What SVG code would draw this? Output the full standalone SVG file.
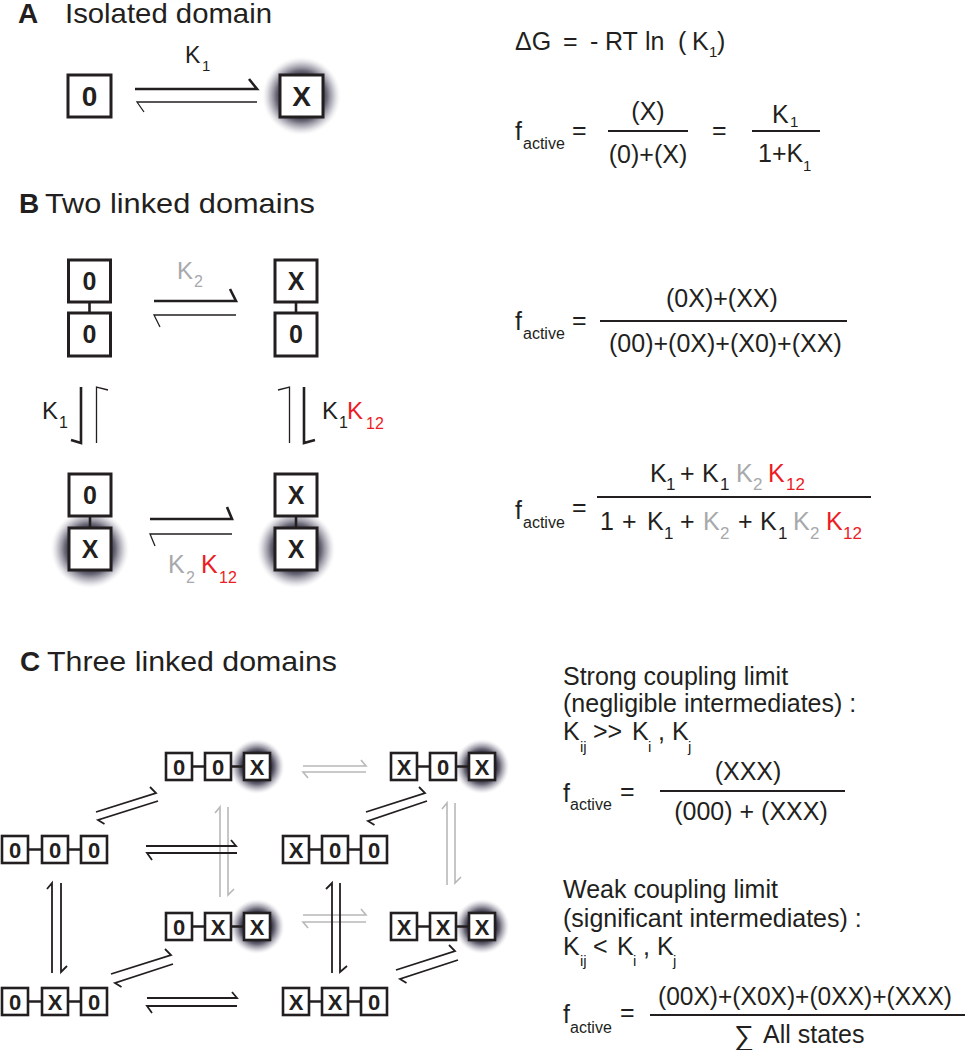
<svg xmlns="http://www.w3.org/2000/svg" width="965" height="1050" viewBox="0 0 965 1050">
<style>
.t{font-family:"Liberation Sans",Arial,sans-serif;fill:#231f20}
.hd{font-size:28px}
.b{font-weight:bold}
.eq{font-size:25px}
.lb{font-size:24px}
.s{font-size:15px}
.s2{font-size:17px}
.sa{font-size:16px}
.gr{fill:#a7a9ac}
.rd{fill:#ed1c24}
.box{fill:#fff;stroke:#231f20;stroke-width:3}
.sbox{fill:#fff;stroke:#231f20;stroke-width:2.6}
.lk{stroke:#231f20;stroke-width:2.6}
.thick{fill:none;stroke:#231f20;stroke-width:2.6}
.thin{fill:none;stroke:#231f20;stroke-width:1.3}
.ar{fill:none;stroke:#231f20;stroke-width:1.8}
.ga{fill:none;stroke:#b8b8b8;stroke-width:1.6}
.fl{stroke:#231f20;stroke-width:2.2}
.bt{font-size:28px;font-weight:bold;text-anchor:middle}
.bm{font-size:25px;font-weight:bold;text-anchor:middle}
.bs{font-size:22px;font-weight:bold;text-anchor:middle}
.mid{text-anchor:middle}
</style>
<defs>
<radialGradient id="glow" cx="50%" cy="50%" r="50%">
<stop offset="0" stop-color="#2b2939" stop-opacity="1"/>
<stop offset="0.5" stop-color="#2d2b3b" stop-opacity="1"/>
<stop offset="0.64" stop-color="#4a485a" stop-opacity="0.8"/>
<stop offset="0.8" stop-color="#7d7b8c" stop-opacity="0.45"/>
<stop offset="0.92" stop-color="#b0aebb" stop-opacity="0.15"/>
<stop offset="1" stop-color="#ffffff" stop-opacity="0"/>
</radialGradient>
</defs>
<rect width="965" height="1050" fill="#fff"/>

<!-- Headers -->
<g id="headers">
<text class="t hd b" x="18" y="23">A</text>
<text class="t hd" x="65" y="23" textLength="207" lengthAdjust="spacingAndGlyphs">Isolated domain</text>
<text class="t hd b" x="19" y="213">B</text>
<text class="t hd" x="45" y="213" textLength="270" lengthAdjust="spacingAndGlyphs">Two linked domains</text>
<text class="t hd b" x="20" y="671">C</text>
<text class="t hd" x="47" y="671" textLength="290" lengthAdjust="spacingAndGlyphs">Three linked domains</text>
</g>

<!-- Section A nodes -->
<g id="nodeA0">
<rect class="box" x="68" y="75" width="43" height="42"/>
<text class="t bt" x="89.5" y="106">0</text>
</g>
<g id="nodeAX">
<circle cx="301.5" cy="96" r="40" fill="url(#glow)"/>
<rect class="box" x="280" y="75" width="43" height="42"/>
<text class="t bt" x="301.5" y="106">X</text>
</g>

<!-- Section B nodes -->
<g id="nodeB00">
<line class="lk" x1="89.5" y1="302" x2="89.5" y2="313"/>
<rect class="box" x="68.5" y="260" width="42" height="42"/>
<rect class="box" x="68.5" y="313" width="42" height="43"/>
<text class="t bm" x="89.5" y="290">0</text>
<text class="t bm" x="89.5" y="343">0</text>
</g>
<g id="nodeBX0">
<line class="lk" x1="296" y1="302" x2="296" y2="313"/>
<rect class="box" x="275" y="260" width="42" height="42"/>
<rect class="box" x="275" y="313" width="42" height="43"/>
<text class="t bm" x="296" y="290">X</text>
<text class="t bm" x="296" y="343">0</text>
</g>
<g id="nodeB0X">
<circle cx="90" cy="549" r="40" fill="url(#glow)"/>
<line class="lk" x1="90" y1="516" x2="90" y2="528"/>
<rect class="box" x="69" y="474" width="42" height="42"/>
<rect class="box" x="69" y="528" width="42" height="42"/>
<text class="t bm" x="90" y="504">0</text>
<text class="t bm" x="90" y="558">X</text>
</g>
<g id="nodeBXX">
<circle cx="296" cy="549" r="40" fill="url(#glow)"/>
<line class="lk" x1="296" y1="516" x2="296" y2="528"/>
<rect class="box" x="275" y="474" width="42" height="42"/>
<rect class="box" x="275" y="528" width="42" height="42"/>
<text class="t bm" x="296" y="504">X</text>
<text class="t bm" x="296" y="558">X</text>
</g>

<!-- Section C nodes -->
<g id="nodeC000">
<line class="lk" x1="28" y1="849.5" x2="81" y2="849.5"/>
<rect class="sbox" x="2" y="836" width="26" height="27"/><text class="t bs" x="15" y="857.5">0</text>
<rect class="sbox" x="42" y="836" width="26" height="27"/><text class="t bs" x="55" y="857.5">0</text>
<rect class="sbox" x="81" y="836" width="26" height="27"/><text class="t bs" x="94" y="857.5">0</text>
</g>
<g id="nodeCX00">
<line class="lk" x1="309" y1="849.5" x2="361" y2="849.5"/>
<rect class="sbox" x="283" y="836" width="26" height="27"/><text class="t bs" x="296" y="857.5">X</text>
<rect class="sbox" x="322" y="836" width="26" height="27"/><text class="t bs" x="335" y="857.5">0</text>
<rect class="sbox" x="361" y="836" width="26" height="27"/><text class="t bs" x="374" y="857.5">0</text>
</g>
<g id="nodeC0X0">
<line class="lk" x1="28" y1="1001.5" x2="81" y2="1001.5"/>
<rect class="sbox" x="2" y="988" width="26" height="27"/><text class="t bs" x="15" y="1009.5">0</text>
<rect class="sbox" x="42" y="988" width="26" height="27"/><text class="t bs" x="55" y="1009.5">X</text>
<rect class="sbox" x="81" y="988" width="26" height="27"/><text class="t bs" x="94" y="1009.5">0</text>
</g>
<g id="nodeCXX0">
<line class="lk" x1="309" y1="1001.5" x2="361" y2="1001.5"/>
<rect class="sbox" x="283" y="988" width="26" height="27"/><text class="t bs" x="296" y="1009.5">X</text>
<rect class="sbox" x="322" y="988" width="26" height="27"/><text class="t bs" x="335" y="1009.5">X</text>
<rect class="sbox" x="361" y="988" width="26" height="27"/><text class="t bs" x="374" y="1009.5">0</text>
</g>
<g id="nodeC00X">
<circle cx="257" cy="766.5" r="28" fill="url(#glow)"/>
<line class="lk" x1="192" y1="766.5" x2="244" y2="766.5"/>
<rect class="sbox" x="166" y="753" width="26" height="27"/><text class="t bs" x="179" y="774.5">0</text>
<rect class="sbox" x="205" y="753" width="26" height="27"/><text class="t bs" x="218" y="774.5">0</text>
<rect class="sbox" x="244" y="753" width="26" height="27"/><text class="t bs" x="257" y="774.5">X</text>
</g>
<g id="nodeCX0X">
<circle cx="482" cy="766.5" r="28" fill="url(#glow)"/>
<line class="lk" x1="417" y1="766.5" x2="469" y2="766.5"/>
<rect class="sbox" x="391" y="753" width="26" height="27"/><text class="t bs" x="404" y="774.5">X</text>
<rect class="sbox" x="430" y="753" width="26" height="27"/><text class="t bs" x="443" y="774.5">0</text>
<rect class="sbox" x="469" y="753" width="26" height="27"/><text class="t bs" x="482" y="774.5">X</text>
</g>
<g id="nodeC0XX">
<circle cx="257" cy="926.5" r="28" fill="url(#glow)"/>
<line class="lk" x1="192" y1="926.5" x2="244" y2="926.5"/>
<rect class="sbox" x="166" y="913" width="26" height="27"/><text class="t bs" x="179" y="934.5">0</text>
<rect class="sbox" x="205" y="913" width="26" height="27"/><text class="t bs" x="218" y="934.5">X</text>
<rect class="sbox" x="244" y="913" width="26" height="27"/><text class="t bs" x="257" y="934.5">X</text>
</g>
<g id="nodeCXXX">
<circle cx="482" cy="926.5" r="28" fill="url(#glow)"/>
<line class="lk" x1="417" y1="926.5" x2="469" y2="926.5"/>
<rect class="sbox" x="391" y="913" width="26" height="27"/><text class="t bs" x="404" y="934.5">X</text>
<rect class="sbox" x="430" y="913" width="26" height="27"/><text class="t bs" x="443" y="934.5">X</text>
<rect class="sbox" x="469" y="913" width="26" height="27"/><text class="t bs" x="482" y="934.5">X</text>
</g>

<!-- Connectors -->
<g id="connectors">
<!-- A -->
<path class="thick" d="M135,89 H257 L249,79"/>
<path class="thin" d="M257,102 H137 L144,112"/>
<!-- B -->
<path class="thick" d="M154,301 H236 L230,289"/>
<path class="thin" d="M236,315 H154 L160,327"/>
<path class="thick" d="M150,519 H232 L227,507"/>
<path class="thin" d="M232,534 H150 L155,546"/>
<path class="thick" d="M81,387 V443 L71,440"/>
<path class="thin" d="M96.5,443 V387 L108,390"/>
<path class="thin" d="M289.5,443 V387 L278,390"/>
<path class="thick" d="M304,387 V443 L315,440"/>
<!-- C gray (back) -->
<path class="ga" d="M303,766 H366 L361,760"/>
<path class="ga" d="M366,772 H303 L308,778"/>
<path class="ga" d="M303,915 H366 L361,909"/>
<path class="ga" d="M366,922 H303 L308,928"/>
<path class="ga" d="M220,897 V807 L215,813"/>
<path class="ga" d="M228,807 V895 L234,889"/>
<path class="ga" d="M447,885 V803 L442,809"/>
<path class="ga" d="M455,803 V883 L461,877"/>
<!-- C black -->
<path class="ar" d="M146,846 H236 L231,840"/>
<path class="ar" d="M237,853 H147 L152,860"/>
<path class="ar" d="M147,998 H237 L232,992"/>
<path class="ar" d="M237,1006 H147 L152,1013"/>
<path class="ar" d="M52,973 V883 L47,889"/>
<path class="ar" d="M61,883 V972 L67,966"/>
<path class="ar" d="M332,973 V883 L326,889"/>
<path class="ar" d="M340,883 V972 L347,966"/>
<path class="ar" d="M96,812 L156,793 L150,787"/>
<path class="ar" d="M158,801 L98,820 L104.5,824"/>
<path class="ar" d="M366,812 L425,793 L419,787"/>
<path class="ar" d="M427,801 L368,821 L374.5,825"/>
<path class="ar" d="M111,974 L171,955 L165,949"/>
<path class="ar" d="M173,964 L115,983 L121.5,987"/>
<path class="ar" d="M396,970 L455,951 L449,945"/>
<path class="ar" d="M458,960 L400,979 L406.5,983"/>
</g>

<!-- Rate constant labels -->
<g id="labels">
<text class="t" x="185" y="63" font-size="23">K</text><text class="t s" x="202" y="71">1</text>
<text class="t lb gr" x="177" y="279">K</text><text class="t sa gr" x="194" y="287">2</text>
<text class="t lb" x="42" y="419">K</text><text class="t sa" x="59" y="428">1</text>
<text class="t lb" x="322" y="419">K</text><text class="t sa" x="339" y="428">1</text>
<text class="t lb rd" x="347" y="419">K</text><text class="t sa rd" x="366" y="429">12</text>
<text class="t gr" x="168" y="573" font-size="25">K</text><text class="t sa gr" x="186" y="583">2</text>
<text class="t rd" x="201" y="573" font-size="25">K</text><text class="t sa rd" x="219" y="583">12</text>
</g>

<!-- Equations A -->
<g id="eqA">
<text class="t eq" y="50"><tspan x="515">ΔG</tspan><tspan x="563">=</tspan><tspan x="590">-</tspan><tspan x="605">RT</tspan><tspan x="645">ln</tspan><tspan x="678">(</tspan><tspan x="692">K</tspan></text>
<text class="t s" x="709" y="57">1</text>
<text class="t eq" x="717" y="50">)</text>
<text class="t eq" x="515" y="140">f</text><text class="t sa" x="523" y="149">active</text>
<text class="t eq" x="572" y="139">=</text>
<line class="fl" x1="608" y1="131" x2="688" y2="131"/>
<text class="t eq mid" x="648" y="120">(X)</text>
<text class="t eq mid" x="648" y="163">(0)+(X)</text>
<text class="t eq" x="712" y="139">=</text>
<line class="fl" x1="752" y1="131" x2="820" y2="131"/>
<text class="t eq" x="772" y="123">K</text><text class="t s" x="790" y="127">1</text>
<text class="t eq" x="758" y="162">1+K</text><text class="t s" x="803" y="171">1</text>
</g>

<!-- Equations B -->
<g id="eqB">
<text class="t eq" x="515" y="330">f</text><text class="t sa" x="523" y="339">active</text>
<text class="t eq" x="572" y="329">=</text>
<line class="fl" x1="600" y1="321" x2="847" y2="321"/>
<text class="t eq" x="666" y="307">(0X)+(XX)</text>
<text class="t eq" x="609" y="352">(00)+(0X)+(X0)+(XX)</text>

<text class="t eq" x="515" y="519">f</text><text class="t sa" x="523" y="528">active</text>
<text class="t eq" x="572" y="516">=</text>
<line class="fl" x1="597" y1="497" x2="871" y2="497"/>
<text class="t eq" x="650" y="482">K</text><text class="t s2" x="666" y="490">1</text>
<text class="t eq" x="680" y="482">+</text>
<text class="t eq" x="702" y="482">K</text><text class="t s2" x="720" y="490">1</text>
<text class="t eq gr" x="736" y="482">K</text><text class="t s2 gr" x="753" y="490">2</text>
<text class="t eq rd" x="768" y="482">K</text><text class="t s2 rd" x="786" y="490">12</text>

<text class="t eq" x="600" y="530">1</text>
<text class="t eq" x="622" y="530">+</text>
<text class="t eq" x="647" y="530">K</text><text class="t s2" x="664" y="539">1</text>
<text class="t eq" x="680" y="530">+</text>
<text class="t eq gr" x="703" y="530">K</text><text class="t s2 gr" x="720" y="539">2</text>
<text class="t eq" x="738" y="530">+</text>
<text class="t eq" x="760" y="530">K</text><text class="t s2" x="778" y="539">1</text>
<text class="t eq gr" x="793" y="530">K</text><text class="t s2 gr" x="810" y="539">2</text>
<text class="t eq rd" x="826" y="530">K</text><text class="t s2 rd" x="843" y="539">12</text>
</g>

<!-- Equations C -->
<g id="eqC">
<text class="t eq" x="563" y="685">Strong coupling limit</text>
<text class="t eq" x="563" y="712">(negligible intermediates) :</text>
<text class="t eq" x="563" y="740">K</text><text class="t s" x="580" y="752">ij</text>
<text class="t eq" x="593" y="740">&gt;&gt;</text>
<text class="t eq" x="632" y="740">K</text><text class="t s" x="648" y="752">i</text>
<text class="t eq" x="658" y="740">,</text>
<text class="t eq" x="672" y="740">K</text><text class="t s" x="688" y="752">j</text>
<text class="t eq" x="563" y="802">f</text><text class="t sa" x="570" y="810">active</text>
<text class="t eq" x="620" y="800">=</text>
<line class="fl" x1="660" y1="791" x2="845" y2="791"/>
<text class="t eq mid" x="748" y="780">(XXX)</text>
<text class="t eq mid" x="751" y="820">(000) + (XXX)</text>

<text class="t eq" x="563" y="898">Weak coupling limit</text>
<text class="t eq" x="563" y="927">(significant intermediates) :</text>
<text class="t eq" x="563" y="955">K</text><text class="t s" x="580" y="966">ij</text>
<text class="t eq" x="593" y="955">&lt;</text>
<text class="t eq" x="617" y="955">K</text><text class="t s" x="633" y="966">i</text>
<text class="t eq" x="643" y="955">,</text>
<text class="t eq" x="657" y="955">K</text><text class="t s" x="673" y="966">j</text>
<text class="t eq" x="563" y="1023">f</text><text class="t sa" x="570" y="1033">active</text>
<text class="t eq" x="620" y="1021">=</text>
<line class="fl" x1="650" y1="1015" x2="965" y2="1015"/>
<text class="t eq" x="658" y="1005" textLength="294" lengthAdjust="spacingAndGlyphs">(00X)+(X0X)+(0XX)+(XXX)</text>
<text class="t" x="734" y="1045" font-size="28" font-family="'DejaVu Sans',sans-serif">∑</text>
<text class="t eq" x="763" y="1043">All states</text>
</g>
</svg>
